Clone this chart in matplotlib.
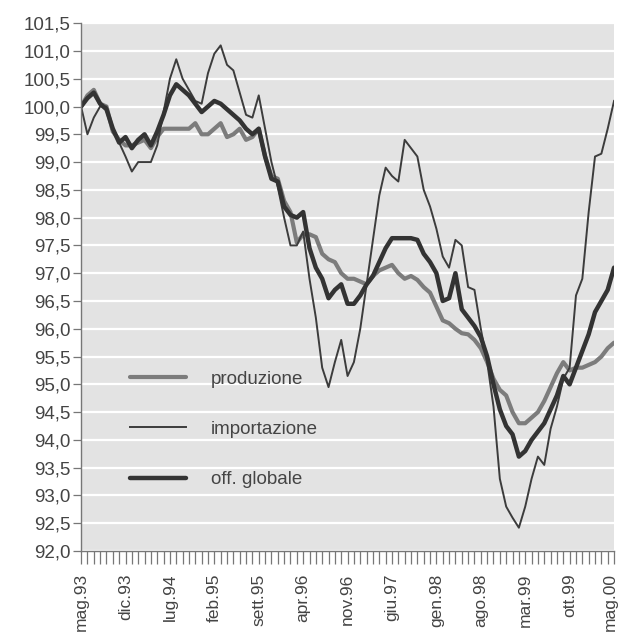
import matplotlib.pyplot as plt
import matplotlib.transforms as mtransforms
import numpy as np
from matplotlib.ticker import FuncFormatter, MultipleLocator

plt.rcParams['font.family'] = ['Liberation Sans', 'DejaVu Sans']

# etichette dei mesi (una ogni 7 mesi, da mag.93 a mag.00)
etichette = ['mag.93', 'dic.93', 'lug.94', 'feb.95', 'sett.95', 'apr.96', 'nov.96',
             'giu.97', 'gen.98', 'ago.98', 'mar.99', 'ott.99', 'mag.00']

produzione = [100.0, 100.2, 100.3, 100.05, 100.0, 99.55, 99.4, 99.3, 99.3, 99.35,
              99.4, 99.25, 99.45, 99.6, 99.6, 99.6, 99.6, 99.6, 99.7, 99.5,
              99.5, 99.6, 99.7, 99.45, 99.5, 99.6, 99.4, 99.45, 99.6, 99.1,
              98.75, 98.7, 98.3, 98.1, 97.55, 97.7, 97.7, 97.65, 97.35, 97.25,
              97.2, 97.0, 96.9, 96.9, 96.85, 96.8, 96.95, 97.05, 97.1, 97.15,
              97.0, 96.9, 96.95, 96.88, 96.75, 96.65, 96.4, 96.15, 96.1, 96.0,
              95.92, 95.9, 95.8, 95.65, 95.4, 95.1, 94.9, 94.8, 94.5, 94.3,
              94.3, 94.4, 94.5, 94.7, 94.95, 95.2, 95.4, 95.25, 95.3, 95.3,
              95.35, 95.4, 95.5, 95.65, 95.75]

importazione = [100.0, 99.5, 99.8, 100.0, 100.0, 99.6, 99.35, 99.1, 98.83, 99.0,
                99.0, 99.0, 99.3, 99.9, 100.5, 100.85, 100.5, 100.3, 100.1, 100.05,
                100.6, 100.95, 101.1, 100.75, 100.65, 100.25, 99.85, 99.8, 100.2, 99.6,
                99.0, 98.55, 98.0, 97.5, 97.5, 97.75, 96.9, 96.2, 95.3, 94.95,
                95.4, 95.8, 95.15, 95.4, 96.0, 96.8, 97.6, 98.4, 98.9, 98.75,
                98.65, 99.4, 99.25, 99.1, 98.5, 98.2, 97.8, 97.3, 97.1, 97.6,
                97.5, 96.75, 96.7, 96.0, 95.4, 94.6, 93.3, 92.8, 92.6, 92.42,
                92.8, 93.3, 93.7, 93.55, 94.2, 94.6, 95.1, 95.3, 96.6, 96.9,
                98.1, 99.1, 99.15, 99.6, 100.1]

offerta_globale = [100.0, 100.15, 100.25, 100.05, 99.95, 99.6, 99.35, 99.45, 99.25, 99.4,
                   99.5, 99.3, 99.55, 99.85, 100.2, 100.4, 100.3, 100.2, 100.05, 99.9,
                   100.0, 100.1, 100.05, 99.95, 99.85, 99.75, 99.6, 99.5, 99.6, 99.1,
                   98.7, 98.65, 98.2, 98.05, 98.0, 98.1, 97.45, 97.1, 96.9, 96.55,
                   96.7, 96.8, 96.45, 96.45, 96.6, 96.8, 96.95, 97.2, 97.45, 97.63,
                   97.63, 97.63, 97.63, 97.6, 97.35, 97.2, 97.0, 96.5, 96.55, 97.0,
                   96.35, 96.2, 96.05, 95.85, 95.5, 95.0, 94.55, 94.25, 94.1, 93.7,
                   93.8, 94.0, 94.15, 94.3, 94.55, 94.8, 95.15, 95.0, 95.3, 95.6,
                   95.9, 96.3, 96.5, 96.7, 97.1]

mesi = np.arange(len(produzione))

fig = plt.figure(figsize=(6.19, 6.43), dpi=100)
ax = fig.add_axes([0.131, 0.143, 0.861, 0.821])
ax.set_facecolor('#e3e3e3')

ax.plot(mesi, produzione, color='#7c7c7c', lw=3.0, label='produzione', solid_capstyle='round')
ax.plot(mesi, importazione, color='#3c3c3c', lw=1.4, label='importazione')
ax.plot(mesi, offerta_globale, color='#333333', lw=3.2, label='off. globale', solid_capstyle='round')

ax.set_xlim(0, len(produzione) - 1)
ax.set_ylim(92.0, 101.5)
ax.yaxis.set_major_locator(MultipleLocator(0.5))
ax.yaxis.set_major_formatter(FuncFormatter(lambda v, p: f'{v:.1f}'.replace('.', ',')))
ax.grid(axis='y', color='white', lw=1.6)
ax.set_axisbelow(True)

ax.set_xticks(mesi[::7])
ax.set_xticklabels(etichette, rotation=90, va='top', ha='center')
ax.set_xticks(mesi, minor=True)
ax.tick_params(axis='x', which='both', length=9, width=0.9, color='#777777',
               labelsize=12.5, labelcolor='#444444', pad=7)
ax.tick_params(axis='y', length=6, width=0.9, color='#777777',
               labelsize=13.5, labelcolor='#444444', pad=1.5)

# l'ultima etichetta sta sul bordo: spostata un poco a sinistra
ultima = ax.get_xticklabels()[-1]
ultima.set_transform(ultima.get_transform() +
                     mtransforms.ScaledTranslation(-3 / 72, 0, fig.dpi_scale_trans))

for lato in ['top', 'right']:
    ax.spines[lato].set_visible(False)
for lato in ['left', 'bottom']:
    ax.spines[lato].set_color('#777777')
    ax.spines[lato].set_linewidth(1.0)

ax.legend(loc='upper left', bbox_to_anchor=(0.06, 0.374), frameon=False, fontsize=13.5,
          handlelength=3.0, handletextpad=1.33, labelspacing=1.77, labelcolor='#444444')

fig.savefig('out.png', dpi=100)
